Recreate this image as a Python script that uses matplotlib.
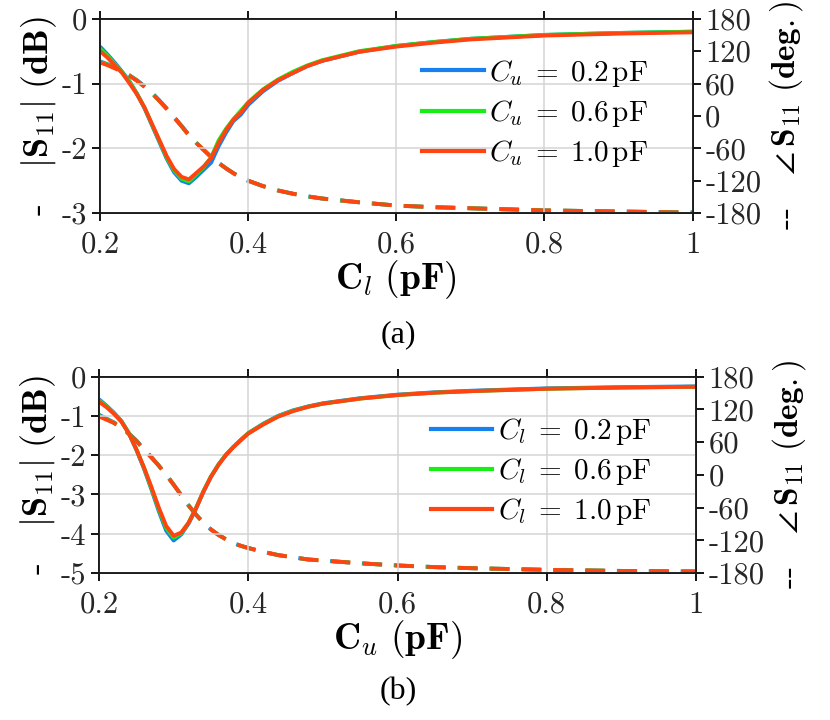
import matplotlib
matplotlib.use("Agg")
import matplotlib.pyplot as plt
from matplotlib.lines import Line2D

plt.rcParams['font.family'] = ['cmr10', 'DejaVu Serif']
plt.rcParams['mathtext.fontset'] = 'cm'
plt.rcParams['axes.unicode_minus'] = False
plt.rcParams['axes.formatter.use_mathtext'] = False

# ---------------- data ----------------
x_vals = [0.20, 0.21, 0.22, 0.23, 0.24, 0.25, 0.26, 0.27, 0.28, 0.29, 0.30,
          0.31, 0.32, 0.33, 0.34, 0.35, 0.36, 0.37, 0.38, 0.39, 0.40, 0.42,
          0.44, 0.46, 0.48, 0.50, 0.55, 0.60, 0.65, 0.70, 0.80, 0.90, 1.00]

series_a = ['0.2', '0.6', '1.0']
series_b = ['0.2', '0.6', '1.0']
colors = ['#1580ee', '#16ee16', '#ff4412']

# (a) magnitude (dB) vs C_l
mag_a_02 = [-0.43, -0.55, -0.68, -0.82, -0.97, -1.16, -1.38, -1.64, -1.90, -2.16, -2.37,
            -2.50, -2.54, -2.44, -2.33, -2.22, -1.97, -1.76, -1.58, -1.48, -1.33, -1.12,
            -0.96, -0.84, -0.73, -0.65, -0.51, -0.42, -0.36, -0.31, -0.25, -0.22, -0.20]
mag_a_06 = [-0.46, -0.57, -0.70, -0.83, -0.98, -1.16, -1.37, -1.63, -1.88, -2.14, -2.34,
            -2.47, -2.51, -2.40, -2.29, -2.14, -1.88, -1.70, -1.55, -1.42, -1.29, -1.09,
            -0.94, -0.82, -0.72, -0.64, -0.50, -0.42, -0.36, -0.31, -0.25, -0.22, -0.20]
mag_a_10 = [-0.50, -0.60, -0.72, -0.84, -1.00, -1.17, -1.37, -1.62, -1.87, -2.12, -2.32,
            -2.44, -2.48, -2.38, -2.28, -2.15, -1.92, -1.72, -1.56, -1.45, -1.30, -1.10,
            -0.95, -0.84, -0.73, -0.65, -0.51, -0.43, -0.37, -0.32, -0.26, -0.23, -0.21]

# (a) phase (deg) vs C_l
ph_a_02 = [101, 96, 90, 83, 75, 66, 55, 43, 29, 14, -2,
           -18, -35, -50, -63, -76, -87, -97, -106, -114, -120, -130,
           -138, -144, -149, -153, -160, -166, -169, -171, -175, -177, -179]
ph_a_06 = [100, 95, 89, 82, 75, 65, 54, 42, 28, 13, -3,
           -19, -36, -50, -63, -76, -87, -97, -106, -114, -120, -130,
           -138, -144, -149, -153, -160, -166, -169, -171, -175, -177, -179]
ph_a_10 = [99, 94, 88, 82, 74, 65, 54, 42, 28, 13, -3,
           -19, -36, -50, -63, -76, -87, -97, -106, -114, -120, -130,
           -138, -144, -149, -153, -160, -166, -169, -171, -175, -177, -179]

# (b) magnitude (dB) vs C_u
mag_b_02 = [-0.58, -0.74, -0.92, -1.13, -1.44, -1.86, -2.33, -2.86, -3.42, -3.92, -4.17,
            -4.02, -3.74, -3.36, -2.93, -2.55, -2.24, -1.99, -1.79, -1.61, -1.44, -1.20,
            -1.00, -0.86, -0.76, -0.68, -0.55, -0.46, -0.40, -0.36, -0.30, -0.27, -0.25]
mag_b_06 = [-0.61, -0.76, -0.93, -1.14, -1.44, -1.85, -2.31, -2.83, -3.37, -3.85, -4.10,
            -3.99, -3.72, -3.34, -2.91, -2.54, -2.24, -1.99, -1.79, -1.61, -1.44, -1.21,
            -1.01, -0.87, -0.77, -0.69, -0.56, -0.47, -0.41, -0.37, -0.31, -0.28, -0.26]
mag_b_10 = [-0.64, -0.78, -0.95, -1.15, -1.45, -1.85, -2.30, -2.80, -3.33, -3.80, -4.05,
            -3.97, -3.72, -3.35, -2.92, -2.55, -2.25, -2.00, -1.80, -1.62, -1.45, -1.22,
            -1.02, -0.88, -0.77, -0.69, -0.56, -0.47, -0.41, -0.37, -0.31, -0.28, -0.26]

# (b) phase (deg) vs C_u
ph_b_02 = [110, 103, 96, 87, 76, 63, 48, 33, 17, 0, -18,
           -37, -56, -73, -88, -100, -110, -118, -125, -130, -134, -141,
           -147, -151, -155, -157, -162, -166, -169, -171, -174, -176, -177]
ph_b_06 = [108, 102, 95, 86, 75, 62, 47, 32, 17, 0, -18,
           -37, -56, -73, -88, -100, -110, -118, -125, -130, -134, -141,
           -147, -151, -155, -157, -162, -166, -169, -171, -174, -176, -177]
ph_b_10 = [107, 101, 95, 86, 75, 62, 47, 32, 17, 0, -18,
           -37, -56, -73, -88, -100, -110, -118, -125, -130, -134, -141,
           -147, -151, -155, -157, -162, -166, -169, -171, -174, -176, -177]

x_ticks = [0.2, 0.4, 0.6, 0.8, 1.0]
x_tick_labels = ['0.2', '0.4', '0.6', '0.8', '1']
y_ticks_a = [0, -1, -2, -3]
y_ticks_b = [0, -1, -2, -3, -4, -5]
ph_ticks = [180, 120, 60, 0, -60, -120, -180]

# ---------------- figure ----------------
fig = plt.figure(figsize=(8.3, 7.2), dpi=100)
ax_a = fig.add_axes([0.1205, 0.704, 0.714, 0.270])
ax_b = fig.add_axes([0.1193, 0.204, 0.7193, 0.273])

tick_col = '#262626'
fs_tick = 22


def style_panel(ax, yticks, ylim, mags, phases, leg_var, labels, xlabel):
    ax2 = ax.twinx()
    for m, c in zip(mags, colors):
        ax.plot(x_vals, m, color=c, lw=2.8, solid_capstyle='butt')
    for p, c in zip(phases, colors):
        ax2.plot(x_vals, p, color=c, lw=2.8, dashes=(5.0, 3.2))
    ax.set_xlim(0.2, 1.0)
    ax.set_ylim(*ylim)
    ax2.set_ylim(-180, 180)
    ax.set_xticks(x_ticks)
    ax.set_xticklabels(x_tick_labels)
    ax.set_yticks(yticks)
    ax.set_yticklabels([str(v) for v in yticks])
    ax2.set_yticks(ph_ticks)
    ax2.set_yticklabels([str(v) for v in ph_ticks])
    ax.grid(True, color='#d4d4d4', lw=1.1)
    ax.set_axisbelow(True)
    for a in (ax, ax2):
        for s in a.spines.values():
            s.set_linewidth(1.3)
            s.set_color('#1a1a1a')
    ax.tick_params(axis='x', which='both', direction='out', length=6, width=1.3,
                   top=True, labelsize=fs_tick, labelcolor=tick_col, pad=7)
    ax.tick_params(axis='y', direction='out', length=6, width=1.3,
                   labelsize=fs_tick, labelcolor=tick_col, pad=3)
    ax2.tick_params(axis='y', direction='out', length=6, width=1.3,
                    labelsize=fs_tick, labelcolor=tick_col, pad=3)
    ax.set_ylabel(r'-   $|\mathbf{S}_{11}|\ (\mathbf{dB})$', fontsize=26, labelpad=2)
    ax2.set_ylabel(r'--   $\angle\,\mathbf{S}_{11}\ (\mathbf{deg.})$', fontsize=24,
                   rotation=90, labelpad=4)
    ax.set_xlabel(xlabel, fontsize=27, labelpad=0)
    handles = [Line2D([], [], color=c, lw=3) for c in colors]
    leg = [r'$C_{%s}\;=\;%s\,\mathrm{pF}$' % (leg_var, s) for s in labels]
    ax.legend(handles, leg, loc='upper right', bbox_to_anchor=(0.945, 0.86),
              frameon=False, fontsize=21, handlelength=2.1, handletextpad=0.2,
              labelspacing=0.32, borderaxespad=0.0)
    ax.set_zorder(ax2.get_zorder() + 1)
    ax.patch.set_visible(False)
    return ax2


style_panel(ax_a, y_ticks_a, (-3, 0), [mag_a_02, mag_a_06, mag_a_10],
            [ph_a_02, ph_a_06, ph_a_10], 'u', series_a,
            r'$\mathbf{C}_l\ (\mathbf{pF})$')
style_panel(ax_b, y_ticks_b, (-5, 0), [mag_b_02, mag_b_06, mag_b_10],
            [ph_b_02, ph_b_06, ph_b_10], 'l', series_b,
            r'$\mathbf{C}_u\ (\mathbf{pF})$')

fig.text(0.48, 0.535, '(a)', fontsize=23, family='Liberation Serif', ha='center', va='center')
fig.text(0.48, 0.040, '(b)', fontsize=23, family='Liberation Serif', ha='center', va='center')

fig.savefig('out.png', dpi=100)
